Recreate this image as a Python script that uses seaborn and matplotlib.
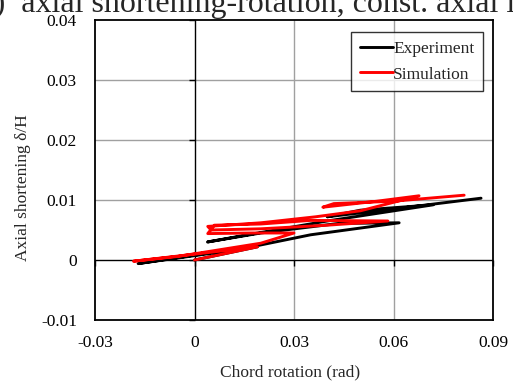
import matplotlib
matplotlib.use("Agg")
import matplotlib.pyplot as plt
import seaborn as sns
import pandas as pd

# Experiment path (chord rotation rad, axial shortening d/H)
exp_rot = [0.0, 0.019, -0.017, 0.019, 0.035, 0.0617, 0.0435, 0.02, 0.0039, 0.016,
           0.04, 0.072, 0.05, 0.04, 0.06, 0.0864]
exp_ax = [0.0, 0.0022, -0.0006, 0.0024, 0.0042, 0.0062, 0.0061, 0.0045, 0.0030, 0.0042,
          0.0065, 0.0092, 0.0083, 0.0072, 0.0085, 0.0103]

# Simulation path
sim_rot = [0.0, 0.019, -0.0184, -0.005, 0.02, 0.03, 0.0175, 0.004, 0.006, 0.02, 0.035,
           0.0583, 0.04, 0.02, 0.005, 0.004, 0.02, 0.0365, 0.05, 0.0677, 0.055, 0.0387,
           0.042, 0.06, 0.0813]
sim_ax = [0.0, 0.0022, -0.0002, 0.0006, 0.0028, 0.0045, 0.0045, 0.0044, 0.0058, 0.0060, 0.0066,
          0.0065, 0.0058, 0.0052, 0.0050, 0.0056, 0.0062, 0.0072, 0.0082, 0.0107, 0.0098, 0.0088,
          0.0094, 0.0098, 0.0108]

x_ticks = [-0.03, 0, 0.03, 0.06, 0.09]
x_tick_labels = ["-0.03", "0", "0.03", "0.06", "0.09"]
y_ticks = [-0.01, 0, 0.01, 0.02, 0.03, 0.04]
y_tick_labels = ["-0.01", "0", "0.01", "0.02", "0.03", "0.04"]

sns.set_theme(style="white")
plt.rcParams['font.family'] = ['Liberation Serif', 'DejaVu Serif']

fig = plt.figure(figsize=(5.13, 3.83), dpi=100)
ax = fig.add_axes([95/513, 1-320/383, 398/513, 300/383])

for xv in [0.03, 0.06]:
    ax.axvline(xv, color='#a0a0a0', lw=1.0, zorder=0)
for yv in [0.01, 0.02, 0.03]:
    ax.axhline(yv, color='#a0a0a0', lw=1.0, zorder=0)
ax.axvline(0, color='black', lw=1.0, zorder=1)
ax.axhline(0, color='black', lw=1.0, zorder=1)
# small tick marks on the zero axes
ax.plot([0] * len(y_ticks), y_ticks, ls='none', marker=0, ms=4, mew=1.0, color='black',
        zorder=1, clip_on=False)
ax.plot(x_ticks, [0] * len(x_ticks), ls='none', marker=3, ms=4, mew=1.0, color='black',
        zorder=1, clip_on=False)

df_e = pd.DataFrame({"rot": exp_rot, "ax": exp_ax})
df_s = pd.DataFrame({"rot": sim_rot, "ax": sim_ax})
sns.lineplot(data=df_e, x="rot", y="ax", sort=False, estimator=None, color='black', lw=2.1,
             ax=ax, label="Experiment", zorder=3)
sns.lineplot(data=df_s, x="rot", y="ax", sort=False, estimator=None, color='red', lw=2.1,
             ax=ax, label="Simulation", zorder=4)

ax.set_xlim(-0.03, 0.09)
ax.set_ylim(-0.01, 0.04)
ax.set_xticks(x_ticks)
ax.set_xticklabels(x_tick_labels)
ax.set_yticks(y_ticks)
ax.set_yticklabels(y_tick_labels)
ax.tick_params(axis='both', length=0, labelsize=12.5, colors='black')
ax.tick_params(axis='x', pad=11)
ax.tick_params(axis='y', pad=13)
for s in ax.spines.values():
    s.set_color('black')
    s.set_linewidth(1.3)
ax.set_xlabel("")
ax.set_ylabel("")

fig.text(290/513, 1-372/383, "Chord rotation (rad)", ha='center', va='center', fontsize=12.5)
fig.text(23/513, 1-188/383, "Axial shortening δ/H", ha='center', va='center', rotation=90, fontsize=12.5)

fig.text(-0.062, 1-12/383, "(b)  axial shortening-rotation, const. axial load", ha='left',
         va='baseline', fontsize=23)

leg = ax.legend(loc='upper right', bbox_to_anchor=(483/513, 1-32/383), bbox_transform=fig.transFigure,
                frameon=True, fancybox=False, edgecolor='black', fontsize=12.5, borderaxespad=0,
                handlelength=1.9, handletextpad=0.0, borderpad=0.5, labelspacing=0.55)
leg.get_frame().set_linewidth(1.0)

fig.savefig("out.png", dpi=100)
